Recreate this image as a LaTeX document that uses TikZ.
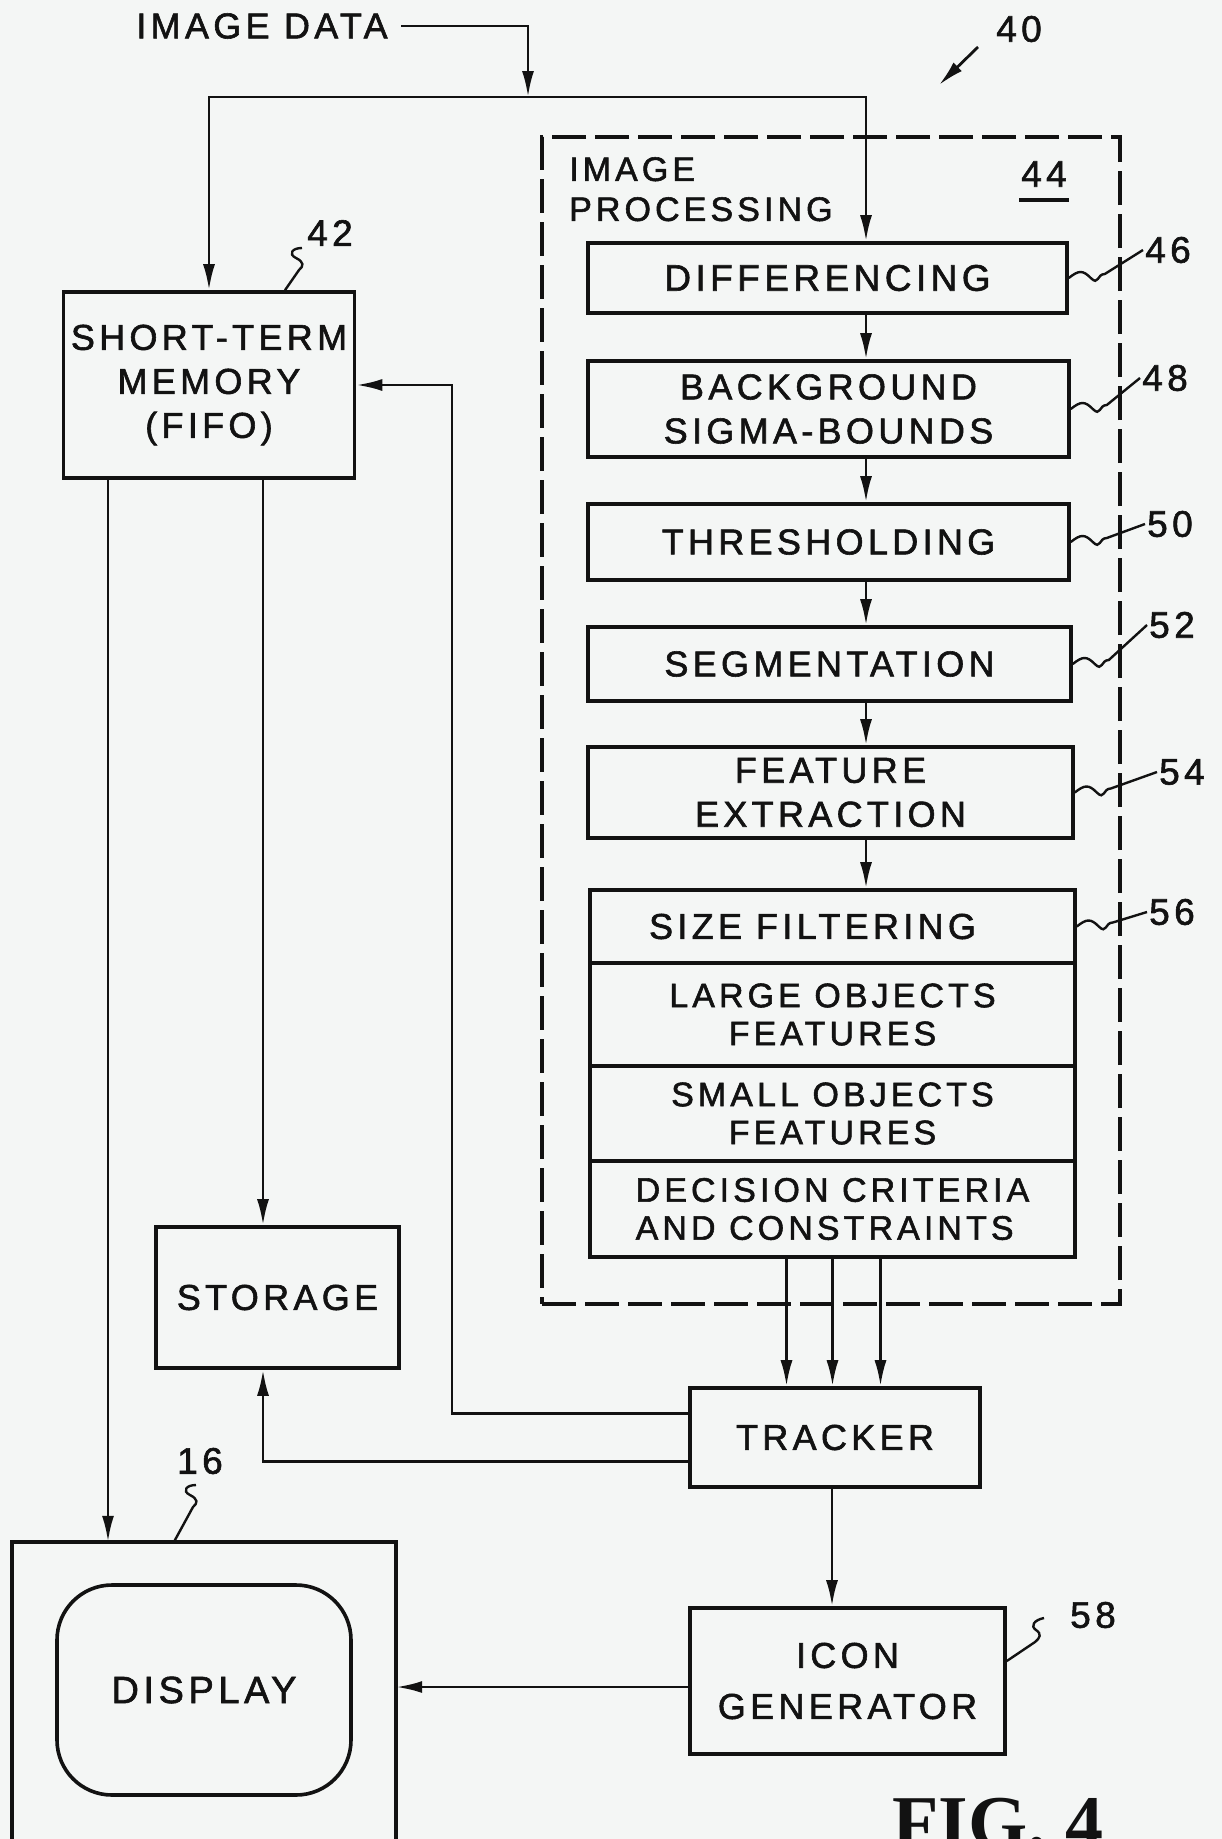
\documentclass[tikz,border=0pt]{standalone}
\usepackage{fontspec}
\usetikzlibrary{arrows.meta,positioning,calc}
\setmainfont{Liberation Sans}
\newfontfamily\hand{Liberation Sans}[LetterSpace=12,FakeBold=1.6]
\newfontfamily\figfont{Liberation Serif}
\definecolor{Paper}{HTML}{F4F6F5}
\definecolor{Ink}{HTML}{121212}
\newcommand{\boxtext}{\hand\fontsize{36}{44}\selectfont}
\newcommand{\subtext}{\hand\fontsize{34}{38}\selectfont}
\newcommand{\numtext}{\hand\fontsize{37}{40}\selectfont}

\begin{document}
\begin{tikzpicture}[x=1pt,y=-1pt,
  every node/.style={text=Ink,align=center},
  blk/.style={draw=Ink,line width=3.6pt,inner sep=0pt,font=\boxtext},
  sub/.style={blk,font=\subtext},
  ipbox/.style={draw=Ink,line width=3.6pt,dash pattern=on 34pt off 9pt,inner sep=0pt},
  arr/.style={draw=Ink,line width=2.8pt,-{Latex[length=26pt,width=12pt]}},
  lead/.style={draw=Ink,line width=2.4pt},
  refnum/.style={font=\numtext,inner sep=2pt}]
  \useasboundingbox (0,0) rectangle (1222,1839);
  \clip (0,0) rectangle (1222,1839);
  \fill[Paper] (0,0) rectangle (1222,1839);

  % left column
  \node[blk,minimum width=291pt,minimum height=186pt] (mem) at (209,385) {SHORT-TERM\\MEMORY\\(FIFO)};
  \node[blk,minimum width=243pt,minimum height=141pt] (sto) at (277.5,1297.5) {STORAGE};
  \node[minimum width=384pt,minimum height=330pt,inner sep=0pt] (disp) at (204,1707) {};
  \draw[Ink,line width=3.6pt] (disp.south west) -- (disp.north west) -- (disp.north east) -- (disp.south east);
  \node[blk,rounded corners=55pt,minimum width=294pt,minimum height=210pt,font=\hand\fontsize{38}{44}\selectfont] (scr) at (204,1690) {DISPLAY};

  % image processing
  \node[ipbox,minimum width=578pt,minimum height=1167pt] (ip) at (831,720.5) {};
  \node[anchor=north west,align=left,inner sep=0pt,font=\hand\fontsize{34}{40}\selectfont] (iptxt) at (569,157) {IMAGE\\PROCESSING};
  \node[refnum] (r44) at (1044,174) {44};
  \draw[Ink,line width=3.6pt] ([yshift=-11pt]r44.south west) -- ([yshift=-11pt]r44.south east);
  \node[blk,minimum width=479pt,minimum height=70pt,font=\hand\fontsize{37}{44}\selectfont] (dif) at (827.5,278) {DIFFERENCING};
  \node[blk,minimum width=481pt,minimum height=96pt] (bgs) at (828.5,409) {BACKGROUND\\SIGMA-BOUNDS};
  \node[blk,minimum width=481pt,minimum height=76pt] (thr) at (828.5,542) {THRESHOLDING};
  \node[blk,minimum width=483pt,minimum height=74pt] (seg) at (829.5,664) {SEGMENTATION};
  \node[blk,minimum width=485pt,minimum height=91pt] (fex) at (830.5,792.5) {FEATURE\\EXTRACTION};
  \node[blk,minimum width=485pt,minimum height=73pt] (szf) at (832.5,926.5) {SIZE\hspace{14pt}FILTERING\hspace{40pt}\null};
  \node[sub,minimum width=485pt,minimum height=103pt] (lrg) at (832.5,1014.5) {LARGE OBJECTS\\FEATURES};
  \node[sub,minimum width=485pt,minimum height=95pt] (sml) at (832.5,1113.5) {SMALL OBJECTS\\FEATURES};
  \node[sub,minimum width=485pt,minimum height=96pt,align=left] (dec) at (832.5,1209) {DECISION CRITERIA\\AND CONSTRAINTS};

  % lower right
  \node[blk,minimum width=290pt,minimum height=99pt] (trk) at (835,1437.5) {TRACKER};
  \node[blk,minimum width=315pt,minimum height=146pt] (icon) at (847.5,1681) {ICON\\[7pt]GENERATOR};

  % input
  \node[font=\boxtext] (idata) at (262,26) {IMAGE DATA};
  \coordinate (jn) at (528,97);
  \coordinate (spine) at (866,97);
  \coordinate (fb) at (452,900);
  \coordinate (ms) at (263,800);
  \coordinate (md) at (108,1000);
  \draw[arr] ([xshift=10pt]idata.east) -| (jn);
  \draw[arr] (jn) -| (mem.north);
  \draw[arr] (jn) -| (dif.north -| spine);
  \foreach \a/\b in {dif/bgs,bgs/thr,thr/seg,seg/fex,fex/szf}
    \draw[arr] (\a.south -| spine) -- (\b.north -| spine);
  \foreach \dx in {-46,0,48}
    \draw[arr] ([xshift=\dx pt]dec.south) -- ([xshift=\dx pt]dec.south |- trk.north);
  \draw[arr] ([xshift=-3pt]trk.south) -- ([xshift=-3pt]trk.south |- icon.north);
  \draw[arr] ([yshift=-6pt]icon.west) -- ([yshift=-6pt]icon.west -| disp.east);
  \draw[arr] ([yshift=24pt]trk.west) -| (fb) |- (mem.east);
  \draw[arr] ([yshift=-24pt]trk.west) -| (sto.south -| ms);
  \draw[arr] (mem.south -| ms) -- (sto.north -| ms);
  \draw[arr] (mem.south -| md) -- (disp.north -| md);

  % reference numerals
  \foreach \b/\n/\nx/\ny in {dif/46/1168/250,bgs/48/1165/378,thr/50/1170/524,seg/52/1172/625,fex/54/1182/772,szf/56/1172/912}{
    \node[refnum] (r\n) at (\nx,\ny) {\n};
    \draw[lead] (\b.east) .. controls ($(\b.east)+(10,-8)$) and ($(\b.east)+(14,-8)$) .. ($(\b.east)+(22,0)$)
      .. controls ($(\b.east)+(30,8)$) and ($(\b.east)+(28,-4)$) .. ($(\b.east)+(36,-4)$) -- (r\n.west);
  }
  \node[refnum] (r42) at (330,233) {42};
  \coordinate (s42) at ([shift={(-28,15)}]r42.center);
  \coordinate (k42) at ([xshift=76pt]mem.north);
  \draw[lead] (s42) .. controls ($(s42)+(-10,0)$) and ($(s42)+(-14,6)$) .. ($(s42)+(-6,10)$)
    .. controls ($(s42)+(2,14)$) and ($(s42)+(2,18)$) .. ($(s42)+(-3,22)$) -- (k42);
  \node[refnum] (r16) at (200,1461) {16};
  \coordinate (s16) at ([shift={(-4,24)}]r16.center);
  \coordinate (k16) at ([xshift=-30pt]disp.north);
  \draw[lead] (s16) .. controls ($(s16)+(-10,0)$) and ($(s16)+(-14,6)$) .. ($(s16)+(-6,10)$)
    .. controls ($(s16)+(2,14)$) and ($(s16)+(2,18)$) .. ($(s16)+(-3,22)$) -- (k16);
  \node[refnum] (r58) at (1093,1615) {58};
  \coordinate (s58) at ([shift={(-49,3)}]r58.center);
  \coordinate (k58) at ([yshift=20pt]icon.east);
  \draw[lead] (s58) .. controls ($(s58)+(-10,2)$) and ($(s58)+(-14,8)$) .. ($(s58)+(-8,12)$)
    .. controls ($(s58)+(-2,16)$) and ($(s58)+(-4,20)$) .. ($(s58)+(-9,24)$) -- (k58);
  \node[refnum] (r40) at (1019,29) {40};
  \draw[arr] ([shift={(-41,18)}]r40.center) -- ([shift={(-80,56)}]r40.center);

  \node[anchor=base west,inner sep=0pt,font=\figfont\bfseries\fontsize{76}{80}\selectfont] (fig) at (892,1848) {FIG. 4};
\end{tikzpicture}
\end{document}
